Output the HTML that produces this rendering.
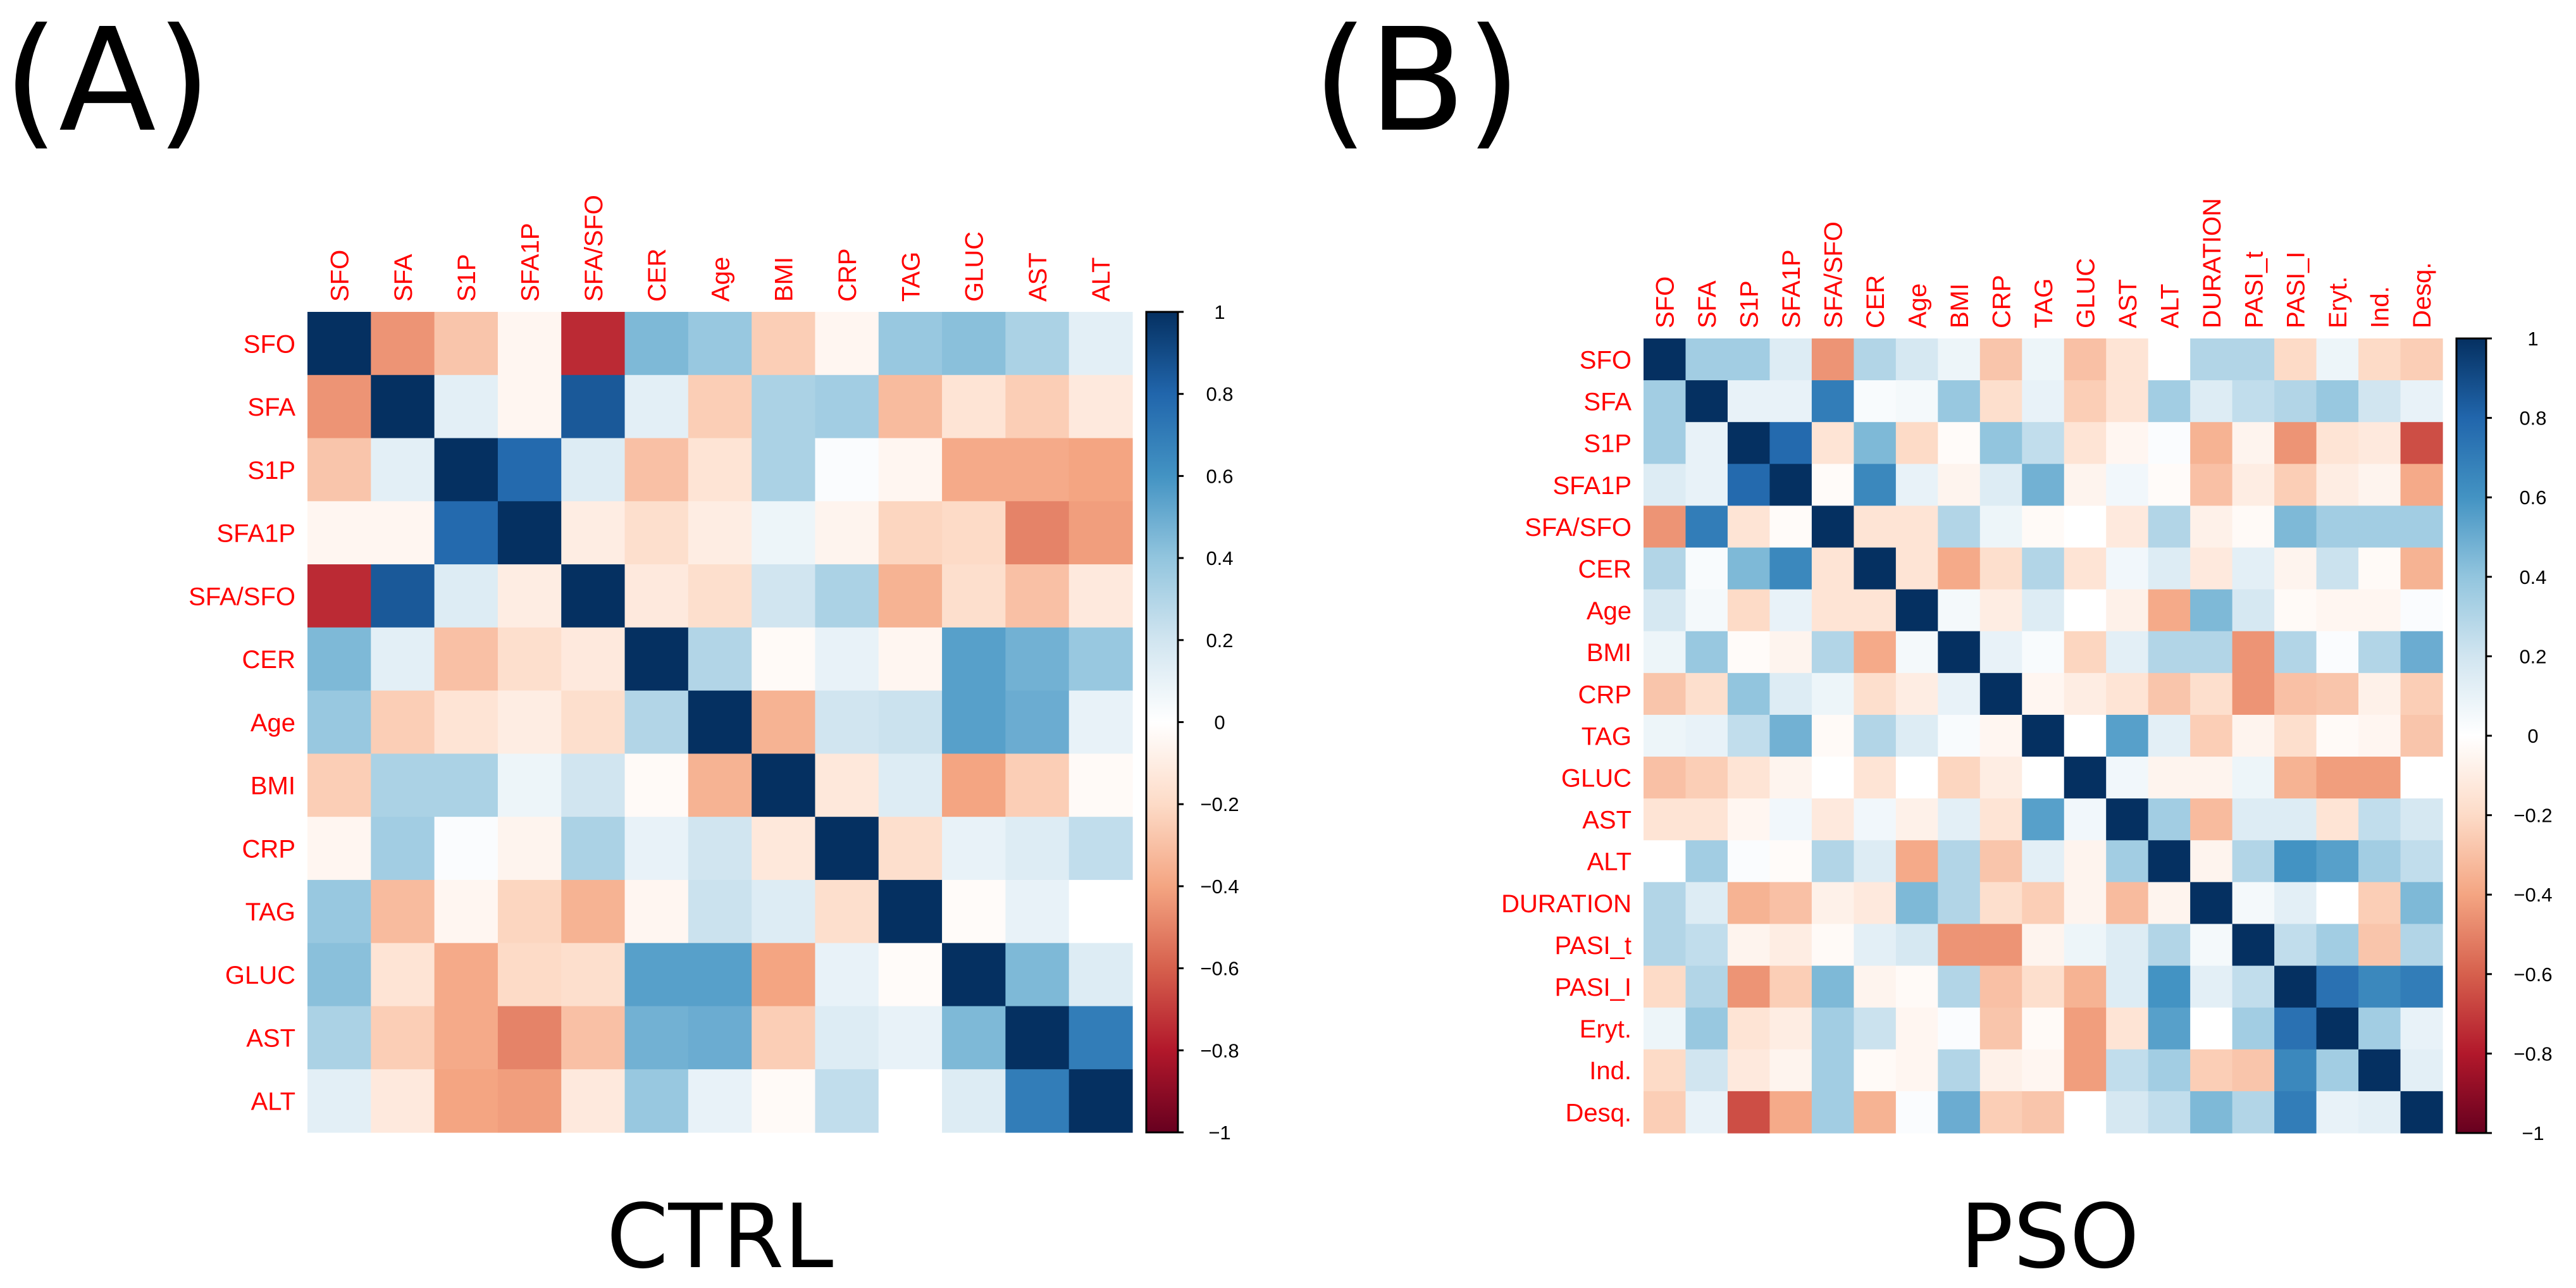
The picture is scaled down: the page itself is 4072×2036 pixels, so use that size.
<!DOCTYPE html>
<html><head><meta charset="utf-8"><style>
html,body{margin:0;padding:0;background:#fff;}
svg{display:block;font-family:"Liberation Sans",sans-serif;}
</style></head><body>
<svg id="fig" width="4072" height="2036" viewBox="0 0 4072 2036" xmlns="http://www.w3.org/2000/svg">
<defs>
<linearGradient id="rdbu" x1="0" y1="1" x2="0" y2="0">
<stop offset="0" stop-color="#67001F"/><stop offset="0.1" stop-color="#B2182B"/><stop offset="0.2" stop-color="#D6604D"/><stop offset="0.3" stop-color="#F4A582"/><stop offset="0.4" stop-color="#FDDBC7"/><stop offset="0.5" stop-color="#FFFFFF"/><stop offset="0.6" stop-color="#D1E5F0"/><stop offset="0.7" stop-color="#92C5DE"/><stop offset="0.8" stop-color="#4393C3"/><stop offset="0.9" stop-color="#2166AC"/><stop offset="1" stop-color="#053061"/>
</linearGradient>
</defs>
<text x="5" y="205" font-size="225" font-family="DejaVu Sans, sans-serif" fill="#000">(A)</text>
<text x="2075" y="205" font-size="225" font-family="DejaVu Sans, sans-serif" fill="#000">(B)</text>
<text x="1138" y="2003" font-size="140" font-family="DejaVu Sans, sans-serif" text-anchor="middle" fill="#000">CTRL</text>
<text x="3240" y="2003" font-size="140" font-family="DejaVu Sans, sans-serif" text-anchor="middle" fill="#000">PSO</text>
<g id="pa"></g>
<g id="pb"></g>
</svg>
<script>
const varsA = ["SFO","SFA","S1P","SFA1P","SFA/SFO","CER","Age","BMI","CRP","TAG","GLUC","AST","ALT"];
const corrA = [
[1,-0.45,-0.28,-0.05,-0.75,0.45,0.38,-0.25,-0.05,0.38,0.42,0.32,0.12],
[-0.45,1,0.12,-0.05,0.85,0.12,-0.25,0.32,0.35,-0.32,-0.15,-0.25,-0.12],
[-0.28,0.12,1,0.78,0.15,-0.3,-0.15,0.32,0.02,-0.05,-0.38,-0.38,-0.4],
[-0.05,-0.05,0.78,1,-0.1,-0.18,-0.1,0.08,-0.06,-0.22,-0.2,-0.5,-0.42],
[-0.75,0.85,0.15,-0.1,1,-0.12,-0.18,0.2,0.32,-0.35,-0.18,-0.3,-0.12],
[0.45,0.12,-0.3,-0.18,-0.12,1,0.3,-0.03,0.1,-0.05,0.55,0.48,0.38],
[0.38,-0.25,-0.15,-0.1,-0.18,0.3,1,-0.35,0.2,0.22,0.55,0.5,0.1],
[-0.25,0.32,0.32,0.08,0.2,-0.03,-0.35,1,-0.13,0.15,-0.4,-0.25,-0.03],
[-0.05,0.35,0.02,-0.06,0.32,0.1,0.2,-0.13,1,-0.18,0.1,0.15,0.25],
[0.38,-0.32,-0.05,-0.22,-0.35,-0.05,0.22,0.15,-0.18,1,-0.02,0.1,0],
[0.42,-0.15,-0.38,-0.2,-0.18,0.55,0.55,-0.4,0.1,-0.02,1,0.45,0.15],
[0.32,-0.25,-0.38,-0.5,-0.3,0.48,0.5,-0.25,0.15,0.1,0.45,1,0.7],
[0.12,-0.12,-0.4,-0.42,-0.12,0.38,0.1,-0.03,0.25,0,0.15,0.7,1]];
const varsB = ["SFO","SFA","S1P","SFA1P","SFA/SFO","CER","Age","BMI","CRP","TAG","GLUC","AST","ALT","DURATION","PASI_t","PASI_I","Eryt.","Ind.","Desq."];
const corrB = [
[1,0.35,0.35,0.15,-0.45,0.3,0.18,0.08,-0.28,0.08,-0.3,-0.15,0,0.3,0.3,-0.2,0.08,-0.2,-0.25],
[0.35,1,0.1,0.1,0.7,0.03,0.05,0.38,-0.18,0.1,-0.25,-0.15,0.35,0.15,0.25,0.3,0.38,0.2,0.1],
[0.35,0.1,1,0.78,-0.15,0.45,-0.2,-0.02,0.4,0.25,-0.15,-0.05,0.02,-0.35,-0.06,-0.45,-0.15,-0.12,-0.65],
[0.15,0.1,0.78,1,-0.02,0.65,0.1,-0.06,0.15,0.48,-0.06,0.06,-0.02,-0.3,-0.1,-0.25,-0.1,-0.06,-0.38],
[-0.45,0.7,-0.15,-0.02,1,-0.15,-0.15,0.3,0.08,-0.03,0,-0.12,0.3,-0.08,-0.03,0.45,0.35,0.35,0.35],
[0.3,0.03,0.45,0.65,-0.15,1,-0.15,-0.38,-0.18,0.3,-0.15,0.06,0.15,-0.12,0.12,-0.06,0.22,-0.03,-0.35],
[0.18,0.05,-0.2,0.1,-0.15,-0.15,1,0.05,-0.1,0.15,0,-0.08,-0.38,0.45,0.18,-0.03,-0.05,-0.05,0.02],
[0.08,0.38,-0.02,-0.06,0.3,-0.38,0.05,1,0.1,0.03,-0.22,0.12,0.3,0.3,-0.45,0.3,0.02,0.3,0.5],
[-0.28,-0.18,0.4,0.15,0.08,-0.18,-0.1,0.1,1,-0.05,-0.1,-0.15,-0.28,-0.18,-0.45,-0.3,-0.28,-0.08,-0.25],
[0.08,0.1,0.25,0.48,-0.03,0.3,0.15,0.03,-0.05,1,0,0.55,0.12,-0.25,-0.06,-0.18,-0.03,-0.05,-0.28],
[-0.3,-0.25,-0.15,-0.06,0,-0.15,0,-0.22,-0.1,0,1,0.06,-0.06,-0.06,0.08,-0.35,-0.42,-0.42,0],
[-0.15,-0.15,-0.05,0.06,-0.12,0.06,-0.08,0.12,-0.15,0.55,0.06,1,0.35,-0.32,0.15,0.15,-0.15,0.25,0.18],
[0,0.35,0.02,-0.02,0.3,0.15,-0.38,0.3,-0.28,0.12,-0.06,0.35,1,-0.06,0.3,0.6,0.55,0.35,0.25],
[0.3,0.15,-0.35,-0.3,-0.08,-0.12,0.45,0.3,-0.18,-0.25,-0.06,-0.32,-0.06,1,0.05,0.12,0,-0.25,0.45],
[0.3,0.25,-0.06,-0.1,-0.03,0.12,0.18,-0.45,-0.45,-0.06,0.08,0.15,0.3,0.05,1,0.25,0.35,-0.28,0.3],
[-0.2,0.3,-0.45,-0.25,0.45,-0.06,-0.03,0.3,-0.3,-0.18,-0.35,0.15,0.6,0.12,0.25,1,0.75,0.65,0.7],
[0.08,0.38,-0.15,-0.1,0.35,0.22,-0.05,0.02,-0.28,-0.03,-0.42,-0.15,0.55,0,0.35,0.75,1,0.35,0.1],
[-0.2,0.2,-0.12,-0.06,0.35,-0.03,-0.05,0.3,-0.08,-0.05,-0.42,0.25,0.35,-0.25,-0.28,0.65,0.35,1,0.12],
[-0.25,0.1,-0.65,-0.38,0.35,-0.35,0.02,0.5,-0.25,-0.28,0,0.18,0.25,0.45,0.3,0.7,0.1,0.12,1]];
const tickVals = [1,0.8,0.6,0.4,0.2,0,-0.2,-0.4,-0.6,-0.8,-1];
const tickLabels = ["1","0.8","0.6","0.4","0.2","0","\u22120.2","\u22120.4","\u22120.6","\u22120.8","\u22121"];

const stops = ["#67001F","#B2182B","#D6604D","#F4A582","#FDDBC7","#FFFFFF","#D1E5F0","#92C5DE","#4393C3","#2166AC","#053061"];
function hex(h){return [1,3,5].map(i=>parseInt(h.substr(i,2),16));}
function color(v){
  const t=(Math.max(-1,Math.min(1,v))+1)/2*10;
  const i=Math.min(9,Math.floor(t)), f=t-i;
  const a=hex(stops[i]), b=hex(stops[i+1]);
  return "rgb("+a.map((c,k)=>Math.round(c+(b[k]-c)*f)).join(",")+")";
}
const NS="http://www.w3.org/2000/svg";
function mk(tag,attrs,parent){const e=document.createElementNS(NS,tag);for(const k in attrs)e.setAttribute(k,attrs[k]);parent.appendChild(e);return e;}

function panel(g,vars,corr,L,T,R,B,fs,cbX,cbW,labX){
  const n=vars.length, cw=(R-L)/n, ch=(B-T)/n;
  const xs=i=>L+i*cw, ys=j=>T+j*ch;
  for(let r=0;r<n;r++)for(let c=0;c<n;c++){
    const rc=mk("rect",{x:xs(c),y:ys(r),width:cw+0.6,height:ch+0.6,fill:color(corr[r][c])},g);
    
    
  }
  vars.forEach((v,i)=>{
    const t=mk("text",{x:L-19,y:ys(i)+ch/2+fs*0.36,"font-size":fs,"text-anchor":"end",fill:"#ff0000"},g);
    t.textContent=v;
    
    
    const cx=xs(i)+cw/2+fs*0.36, cy=T-16;
    const u=mk("text",{x:cx,y:cy,"font-size":fs,"text-anchor":"start",fill:"#ff0000",transform:"rotate(-90 "+cx+" "+cy+")"},g);
    u.textContent=v;
    
    
  });
  const cb=mk("rect",{x:cbX,y:T,width:cbW,height:B-T,fill:"url(#rdbu)",stroke:"#000","stroke-width":3},g);
  
  
  const cy=v=>T+(1-v)/2*(B-T);
  tickVals.forEach((v,i)=>{
    const tk=mk("line",{x1:cbX+cbW,x2:cbX+cbW+9,y1:cy(v),y2:cy(v),stroke:"#000","stroke-width":3},g);
    
    
    const tl=mk("text",{x:labX,y:cy(v)+11,"font-size":31,"text-anchor":"middle",fill:"#000"},g);
    tl.textContent=tickLabels[i];
    
    
  });
}
panel(document.getElementById("pa"),varsA,corrA,486,493,1790,1790,40,1812,50,1928);
panel(document.getElementById("pb"),varsB,corrB,2598,535,3861,1791,40,3883,47,4004);
</script>
</body></html>
